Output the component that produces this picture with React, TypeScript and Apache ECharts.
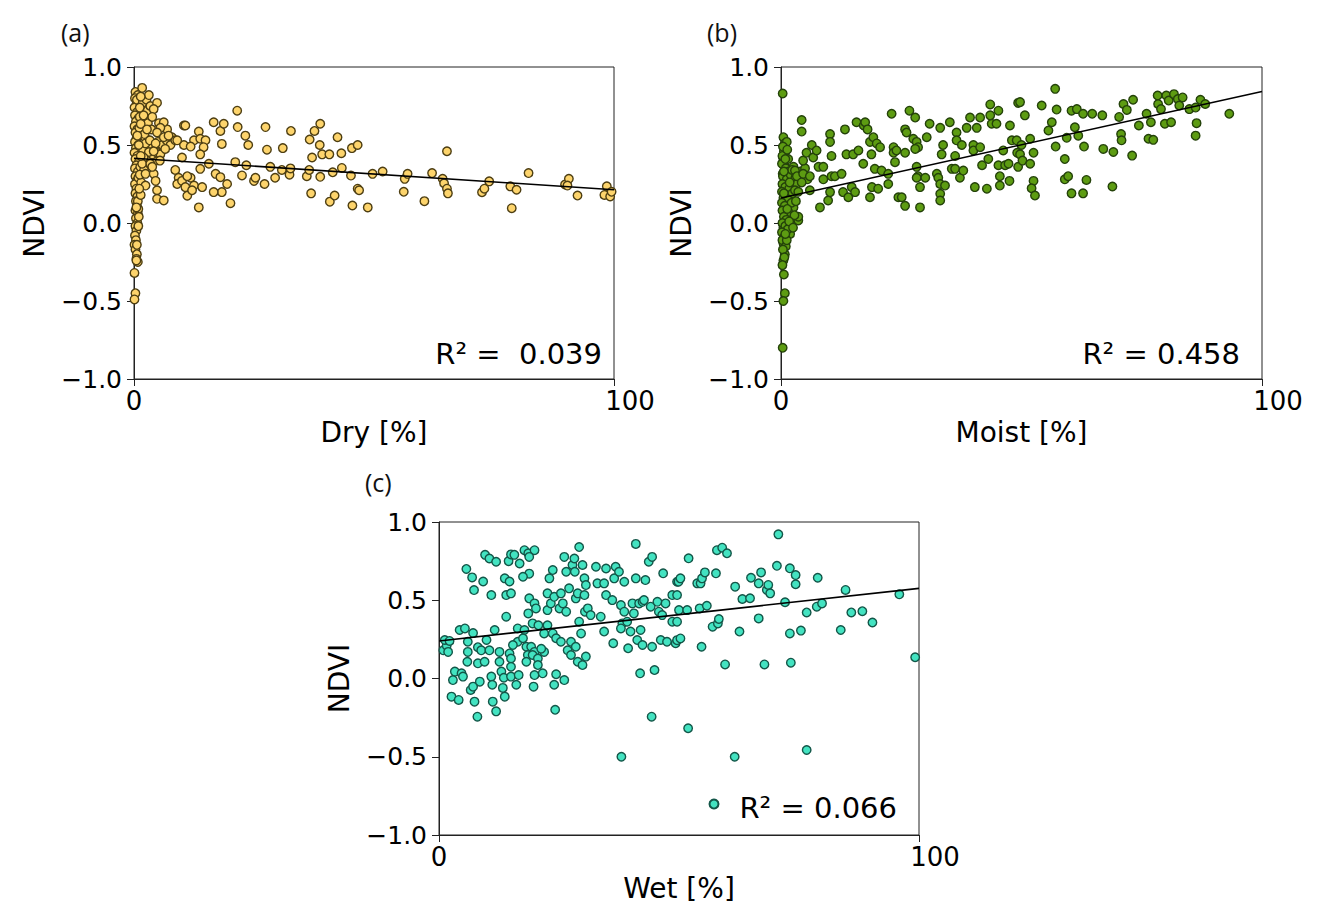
import React, { useEffect, useRef } from "react";
import * as echarts from "echarts";

// ---------- DATA ----------
const panelLabels = ["(a)", "(b)", "(c)"];
const xAxisNames = ["Dry [%]", "Moist [%]", "Wet [%]"];
const yAxisName = "NDVI";
const r2Texts = ["R\u00B2 =  0.039", "R\u00B2 = 0.458", "R\u00B2 = 0.066"];
const yTickLabels = ["\u22121.0", "\u22120.5", "0.0", "0.5", "1.0"];
const xTickLabels = ["0", "100"];

const fitX = [0, 100];
const dryFit = [0.415, 0.213];
const moistFit = [0.16, 0.843];
const wetFit = [0.24, 0.576];

const dryPts: number[][] = [
  [0.3,0.84],[0.8,0.82],[0.2,0.80],[1.0,0.78],[0.5,0.76],[0.1,0.74],[1.2,0.73],[0.6,0.71],[0.2,0.69],[0.9,0.67],
  [0.4,0.65],[1.3,0.63],[0.1,0.62],[0.7,0.60],[0.3,0.58],[1.1,0.56],[0.5,0.54],[0.2,0.52],[0.9,0.50],[0.4,0.48],
  [1.4,0.47],[0.1,0.45],[0.7,0.43],[0.3,0.41],[1.0,0.39],[0.5,0.37],[0.2,0.35],[0.8,0.33],[0.3,0.30],[0.6,0.27],
  [0.2,0.25],[0.5,0.22],[0.3,0.19],[0.7,0.17],[0.4,0.14],[0.6,0.11],[0.3,0.08],[0.8,0.06],[0.4,0.03],[0.7,0.0],
  [0.3,-0.02],[0.5,-0.05],[0.2,-0.08],[0.4,-0.11],[0.1,-0.14],[0.3,-0.17],[0.6,-0.2],[0.5,-0.23],[0.8,-0.25],[0.1,-0.32],
  [0.3,-0.45],[0.1,-0.49],[1.5,0.80],[2.2,0.76],[1.8,0.70],[2.5,0.66],[1.6,0.58],[2.3,0.55],[2.8,0.72],[2.0,0.62],[1.2,0.68],
  [0.6,0.79],[1.8,0.77],[2.6,0.79],[3.4,0.75],[2.9,0.64],[3.6,0.60],[1.1,0.61],[2.2,0.57],[3.0,0.50],[1.9,0.47],
  [2.6,0.43],[3.2,0.41],[1.3,0.36],[2.1,0.34],[5.0,0.52],[5.9,0.50],[6.8,0.53],[7.9,0.55],[5.2,0.64],[6.9,0.60],
  [0.9,0.29],[1.5,0.26],[1.2,0.31],[0.8,0.14],[0.9,-0.02],[0.6,-0.14],[0.9,0.09],[1.4,0.18],
  [1.7,0.866],[3.1,0.82],[4.8,0.77],[4.1,0.73],[3.8,0.68],[6.2,0.646],[5.5,0.61],[4.8,0.58],[6.2,0.55],[7.6,0.50],
  [8.6,0.53],[10.4,0.625],[10.7,0.625],[10.4,0.50],[10.0,0.42],[12.5,0.53],[13.5,0.586],[13.8,0.54],[14.9,0.53],[14.5,0.486],
  [13.8,0.44],[15.6,0.38],[13.8,0.347],[13.5,0.10],[16.6,0.646],[18.0,0.59],[18.7,0.636],[18.3,0.507],[17.0,0.315],[18.0,0.294],
  [19.4,0.25],[18.3,0.198],[16.6,0.198],[20.1,0.127],[21.5,0.72],[21.6,0.615],[23.2,0.56],[23.8,0.50],[21.1,0.39],[23.4,0.37],
  [22.5,0.305],[25.0,0.27],[25.3,0.29],[27.2,0.25],[27.4,0.615],[27.7,0.47],[31.0,0.48],[32.7,0.59],[28.4,0.36],[29.4,0.29],
  [30.8,0.34],[32.4,0.31],[32.6,0.35],[36.0,0.30],[36.5,0.34],[36.9,0.19],[36.6,0.535],[37.6,0.59],[38.8,0.636],[38.7,0.50],
  [39.2,0.44],[37.1,0.42],[40.7,0.44],[42.4,0.55],[43.2,0.447],[41.4,0.325],[38.8,0.296],[40.8,0.137],[41.8,0.176],[45.2,0.304],
  [43.3,0.353],[45.5,0.112],[46.6,0.22],[46.9,0.21],[45.4,0.48],[46.6,0.50],[48.7,0.10],
  [2.4,0.24],[2.4,0.315],[4.1,0.315],[4.5,0.27],[4.8,0.21],[4.8,0.155],[6.2,0.145],[4.5,0.40],[3.8,0.44],[3.1,0.455],
  [2.4,0.51],[2.0,0.42],[1.7,0.38],[1.4,0.43],[1.0,0.50],[0.7,0.56],[1.4,0.635],[2.0,0.69],[1.2,0.74],[1.4,0.81],
  [2.7,0.60],[3.3,0.53],[4.5,0.51],[4.8,0.45],[5.5,0.44],[3.4,0.38],[4.1,0.46],[7.2,0.56],[6.5,0.475],[5.4,0.40],
  [3.8,0.36],[8.6,0.34],[9.3,0.29],[9.0,0.25],[10.0,0.27],[10.7,0.23],[11.1,0.175],[11.8,0.29],[12.5,0.24],[12.1,0.21],
  [14.2,0.23],[11.1,0.30],[11.8,0.49],[9.0,0.53],[1.0,0.04],[0.5,0.10],[1.1,0.22],[0.5,-0.24],
  [49.7,0.315],[51.8,0.33],[56.2,0.20],[56.4,0.283],[57.0,0.315],[60.5,0.14],[62.1,0.32],[64.3,0.283],[64.6,0.255],[65.2,0.22],
  [65.4,0.19],[65.2,0.46],[72.5,0.197],[73.0,0.22],[74.0,0.267],[78.4,0.235],[79.7,0.213],[78.7,0.095],[82.2,0.32],[89.8,0.247],
  [90.6,0.283],[90.3,0.24],[92.4,0.176],[98.5,0.235],[98.0,0.18],[99.2,0.17],[99.5,0.20]
];

const moistPts: number[][] = [
  [0.35,0.83],[0.5,0.55],[0.8,0.51],[0.8,0.45],[0.5,0.40],[0.8,0.36],[0.35,0.315],[0.8,-0.45],[0.5,-0.50],[0.6,-0.33],
  [0.5,-0.24],[0.8,-0.20],[0.5,-0.13],[1.9,-0.07],[2.2,0.0],[3.6,0.016],[3.6,0.04],[1.2,0.06],[1.9,0.12],[0.5,-0.03],[0.35,-0.80],
  [0.2,0.38],[1.0,0.35],[1.6,0.33],[0.4,0.30],[1.2,0.28],[2.1,0.27],[0.3,0.25],[0.9,0.23],[1.7,0.22],[0.2,0.20],
  [1.1,0.18],[2.4,0.19],[0.5,0.16],[1.4,0.15],[0.2,0.13],[0.8,0.11],[2.6,0.10],[0.3,0.08],[1.5,0.07],[0.6,0.04],
  [1.1,0.02],[0.3,0.0],[0.9,-0.02],[1.4,-0.04],[0.2,-0.06],[0.7,-0.09],[0.3,-0.11],[1.0,-0.15],[0.4,-0.17],[2.8,0.05],
  [2.0,0.31],[3.0,0.29],[2.6,0.36],[1.5,0.41],[0.6,0.46],[1.2,0.52],
  [0.3,0.43],[0.9,0.41],[0.4,0.49],[1.3,0.47],[2.3,0.34],[3.3,0.25],[2.9,0.21],[2.2,0.13],[3.1,0.14],[1.7,0.01],
  [2.5,-0.03],[1.2,-0.11],[0.7,-0.22],[0.3,-0.27],[0.9,-0.07],[1.8,0.26],[0.6,0.33],[4.0,0.33],[5.0,0.35],[5.5,0.28],
  [0.6,0.19],[1.3,0.09],
  [4.3,0.66],[4.3,0.586],[4.6,0.40],[5.3,0.45],[6.4,0.50],[6.7,0.42],[7.4,0.465],[2.9,0.336],[3.3,0.30],[4.6,0.315],
  [6.0,0.30],[4.3,0.26],[3.6,0.20],[6.0,0.21],[7.8,0.36],[8.8,0.36],[8.8,0.28],[8.1,0.10],[9.8,0.144],[10.2,0.198],
  [10.5,0.30],[11.2,0.30],[12.6,0.315],[10.5,0.43],[10.2,0.57],[10.2,0.52],[13.3,0.60],[13.6,0.44],[12.9,0.198],[14.0,0.165],
  [14.7,0.23],[15.4,0.198],[15.0,0.44],[16.1,0.465],[15.7,0.646],[17.2,0.625],[17.5,0.646],[18.0,0.60],[17.1,0.38],[18.5,0.165],
  [18.9,0.23],[18.8,0.44],[18.5,0.52],[19.2,0.55],[19.5,0.347],[19.9,0.51],[20.2,0.22],[20.6,0.486],[20.9,0.336],[22.3,0.25],
  [22.3,0.315],[23.0,0.70],[23.4,0.486],[23.4,0.45],[23.7,0.39],[24.0,0.465],[24.4,0.165],[25.1,0.165],[25.8,0.11],[25.8,0.45],
  [25.8,0.60],[26.1,0.58],[26.7,0.72],[27.9,0.676],[27.5,0.54],[28.2,0.52],[28.5,0.486],[27.9,0.475],[28.2,0.36],[28.5,0.30],
  [28.2,0.29],[28.9,0.23],[28.9,0.10],[30.0,0.29],[30.3,0.55],[30.9,0.636],[32.4,0.315],[32.7,0.29],[33.1,0.25],[33.1,0.187],
  [33.1,0.144],[33.4,0.44],[33.7,0.50],[33.1,0.61],[34.1,0.24],[35.1,0.646],[35.5,0.347],[36.2,0.347],[36.2,0.43],[36.5,0.58],
  [36.5,0.53],[37.6,0.50],[37.2,0.29],[37.9,0.336],[38.6,0.61],[39.3,0.676],[40.0,0.50],[40.0,0.465],[40.3,0.23],[40.7,0.61],
  [41.4,0.676],[41.4,0.486],[41.8,0.37],[42.8,0.22],[43.1,0.41],[43.5,0.76],[43.5,0.69],[43.8,0.636],[44.8,0.636],[45.2,0.72],
  [45.2,0.37],[45.5,0.30],[45.5,0.24],[46.2,0.465],[46.6,0.37],[47.3,0.38],[47.5,0.27],[47.6,0.625],[48.0,0.53],[49.0,0.53],
  [49.3,0.77],[49.3,0.36],[49.1,0.45],
  [49.7,0.775],[50.0,0.50],[49.7,0.44],[50.2,0.40],[50.7,0.69],[51.8,0.54],[52.5,0.45],[51.8,0.38],[52.5,0.27],[52.1,0.223],
  [52.8,0.176],[54.2,0.753],[57.0,0.86],[57.3,0.727],[56.3,0.646],[55.6,0.593],[57.1,0.49],[59.0,0.41],[59.0,0.28],[59.7,0.30],
  [60.4,0.72],[61.5,0.73],[61.1,0.614],[59.4,0.546],[61.8,0.56],[60.4,0.19],[62.8,0.19],[62.8,0.70],[63.0,0.49],[63.5,0.276],
  [64.7,0.70],[66.8,0.69],[67.0,0.475],[69.1,0.455],[68.9,0.234],[70.3,0.68],[70.7,0.57],[70.8,0.53],[71.2,0.763],[71.9,0.725],
  [73.2,0.79],[73.0,0.432],[74.4,0.625],[76.0,0.70],[76.4,0.54],[77.4,0.533],[76.9,0.646],[78.3,0.817],[78.4,0.763],[79.0,0.73],
  [79.8,0.636],[80.1,0.817],[80.6,0.785],[81.1,0.646],[81.7,0.826],[82.5,0.795],[82.8,0.753],[83.5,0.805],[84.9,0.73],[86.2,0.74],
  [86.4,0.64],[86.2,0.56],[87.2,0.79],[88.2,0.763],[93.2,0.70]
];

const wetPts: number[][] = [
  [0.9,0.18],[1.6,0.21],[1.2,0.246],[2.2,0.24],[1.9,0.17],[2.6,-0.116],[4.1,-0.137],[3.3,0.044],[2.9,-0.01],[4.7,0.033],
  [5.0,0.012],[4.3,0.31],[5.4,0.32],[5.7,0.70],[6.9,0.646],[7.3,0.565],[6.0,0.235],[6.0,0.17],[5.9,0.107],[6.6,-0.073],
  [7.1,-0.052],[7.4,-0.148],[8.0,-0.244],[7.1,0.29],[8.1,0.20],[8.1,0.097],[8.5,-0.02],[8.8,0.18],[9.2,0.62],[9.6,0.79],
  [10.5,0.767],[11.9,0.746],[10.9,0.533],[9.5,0.107],[9.9,0.246],[10.5,0.18],[10.9,0.012],[11.1,-0.04],[11.2,-0.148],[11.9,-0.21],
  [11.6,0.31],[12.6,0.17],[12.6,0.107],[13.0,0.044],[13.3,-0.06],[13.7,-0.116],[13.5,0.005],[13.7,0.64],[14.0,0.395],[14.0,0.533],
  [14.7,0.62],[15.0,0.544],[14.5,0.75],[15.0,0.793],[15.7,0.79],[16.8,0.735],[16.4,0.32],[16.4,0.235],[15.4,0.214],[14.7,0.16],
  [15.0,0.128],[15.0,0.075],[15.0,0.012],[16.6,0.022],[16.1,-0.04],[17.8,0.82],[18.6,0.80],[19.9,0.82],[18.8,0.777],[18.8,0.67],
  [17.5,0.65],[17.8,0.31],[17.5,0.257],[18.2,0.203],[18.5,0.15],[18.2,0.107],[18.8,0.512],[18.6,0.416],[19.9,0.48],[20.2,0.448],
  [19.5,0.352],[19.2,0.203],[19.9,0.17],[19.5,0.15],[19.9,0.022],[19.7,-0.052],[20.6,0.128],[20.6,0.086],[20.7,0.34],[21.6,0.033],
  [21.9,0.17],[21.3,0.19],[21.9,0.288],[22.6,0.34],[22.6,0.437],[22.6,0.544],[23.0,0.64],[23.7,0.693],[23.3,0.48],[24.0,0.522],
  [23.7,0.288],[24.4,0.257],[24.4,0.027],[24.0,-0.04],[24.2,-0.2],[25.1,0.448],[25.4,0.544],[25.8,0.48],[25.4,0.235],[26.1,-0.01],
  [26.1,0.777],[26.5,0.682],[26.5,0.427],[26.8,0.18],[27.1,0.576],[27.5,0.235],[27.5,0.15],[27.8,0.725],[28.2,0.767],[28.3,0.682],
  [28.5,0.512],[28.9,0.544],[28.5,0.203],[28.9,0.107],[29.2,0.363],[29.6,0.288],[29.2,0.84],[29.9,0.725],[30.3,0.64],[30.3,0.533],
  [30.4,0.427],[30.6,0.14],[29.9,0.086],[30.6,0.597],[31.0,0.448],[31.6,0.405],[32.7,0.714],[33.0,0.608],[33.7,0.395],[34.4,0.30],
  [34.4,0.608],[34.8,0.533],[34.8,0.703],[36.1,0.501],[36.3,0.225],[36.5,0.64],[36.8,0.714],[37.5,0.682],[37.9,0.469],[38.6,0.618],
  [38.6,0.427],[38.2,0.352],[37.9,0.32],[38.0,-0.50],[39.2,0.363],[39.4,0.193],[39.9,0.30],[40.6,0.416],[40.3,0.48],[41.0,0.86],
  [41.0,0.64],[41.3,0.246],[41.7,0.48],[42.4,0.49],[41.9,0.033],[42.0,0.31],[42.4,0.214],[42.7,0.501],[43.0,0.629],[43.7,0.746],
  [44.4,0.777],[44.4,0.203],[44.1,0.459],[44.9,0.054],[44.3,-0.244],[45.5,0.49],[45.8,0.427],[46.2,0.246],[46.5,0.405],[46.7,0.672],
  [47.2,0.48],[47.5,0.235],[48.6,0.533],[48.6,0.363],[49.3,0.225],[49.6,0.618],[50.0,0.437],
  [49.9,0.619],[50.3,0.64],[49.6,0.533],[51.7,0.437],[49.6,0.363],[49.6,0.245],[50.3,0.256],[52.0,0.768],[51.9,-0.318],[53.8,0.608],
  [54.5,0.608],[54.8,0.64],[55.4,0.678],[54.3,0.448],[55.8,0.465],[54.7,0.203],[57.0,0.331],[58.1,0.352],[58.3,0.38],[57.7,0.672],
  [57.9,0.82],[59.0,0.836],[60.0,0.80],[59.6,0.09],[61.6,-0.50],[61.7,0.587],[62.6,0.30],[63.2,0.508],[64.8,0.513],[65.0,0.644],
  [66.6,0.608],[67.1,0.678],[66.6,0.384],[67.8,0.09],[68.3,0.566],[68.6,0.598],[69.0,0.544],[70.4,0.72],[70.7,0.921],[72.1,0.487],
  [73.1,0.704],[73.1,0.288],[74.3,0.661],[74.3,0.602],[73.3,0.101],[75.4,0.306],[76.6,0.422],[76.6,-0.457],[78.7,0.459],[78.9,0.644],
  [79.8,0.48],[83.7,0.31],[84.7,0.566],[85.9,0.422],[88.2,0.43],[90.3,0.358],[95.9,0.538],[99.2,0.136]
];

// ---------- STYLE ----------
const FONT = "DejaVu Sans";
const fills = ["#fdd46c", "#5d9c12", "#43e3c1"];
const edges = ["#4d3e12", "#24420a", "#135648"];
const grids = [
  { left: 134, top: 67, width: 480, height: 312 },
  { left: 781, top: 67, width: 481, height: 312 },
  { left: 439, top: 522, width: 480, height: 313 },
];
const fits = [dryFit, moistFit, wetFit];
const pts = [dryPts, moistPts, wetPts];

export default function App() {
  const ref = useRef<HTMLDivElement>(null);
  useEffect(() => {
    if (!ref.current) return;
    const chart = echarts.init(ref.current, null, { renderer: "svg" });
    const yFmt = (v: number) => yTickLabels[Math.round((v + 1) / 0.5)] ?? "";
    const xFmt = (v: number) => (v === 0 ? xTickLabels[0] : v === 100 ? "{r|" + xTickLabels[1] + "}" : "");
    const option: any = {
      animation: false,
      backgroundColor: "#fff",
      grid: grids.map((g) => ({ ...g, show: true, borderColor: "#222", borderWidth: 1, backgroundColor: "transparent" })),
      xAxis: grids.map((_, i) => ({
        gridIndex: i,
        type: "value",
        min: 0,
        max: 100,
        interval: 100,
        name: xAxisNames[i],
        nameLocation: "middle",
        nameGap: 39,
        nameTextStyle: { fontFamily: FONT, fontSize: 28, color: "#000", verticalAlign: "top" },
        axisLine: { show: true, onZero: false, lineStyle: { color: "#222", width: 1 } },
        axisTick: { show: true, length: 7, lineStyle: { color: "#222" } },
        axisLabel: {
          formatter: xFmt,
          fontFamily: FONT,
          fontSize: 26,
          color: "#000",
          margin: 9,
          rich: { r: { fontFamily: FONT, fontSize: 26, color: "#000", padding: [0, 0, 0, 32] } },
        },
        splitLine: { show: false },
      })),
      yAxis: grids.map((_, i) => ({
        gridIndex: i,
        type: "value",
        min: -1,
        max: 1,
        interval: 0.5,
        name: yAxisName,
        nameLocation: "middle",
        nameGap: 86,
        nameRotate: 90,
        nameTextStyle: { fontFamily: FONT, fontSize: 28, color: "#000" },
        axisLine: { show: true, onZero: false, lineStyle: { color: "#222", width: 1 } },
        axisTick: { show: true, length: 7, lineStyle: { color: "#222" } },
        axisLabel: { formatter: yFmt, fontFamily: FONT, fontSize: 25, color: "#000", margin: 12 },
        splitLine: { show: false },
      })),
      legend: {
        data: [{ name: r2Texts[2], icon: "circle" }],
        formatter: () => "",
        left: 708.5,
        top: 798.5,
        padding: 0,
        itemWidth: 9,
        itemHeight: 9,
        selectedMode: false,
        textStyle: { fontSize: 1 },
      },
      graphic: [
        ...panelLabels.map((t, i) => ({
          type: "text",
          left: [61, 707, 365][i],
          top: [19, 19, 469][i],
          style: { text: t, fontFamily: "Open Sans", fontSize: 25, fill: "#111" },
        })),
        ...r2Texts.map((t, i) => ({
          type: "text",
          right: 1331 - [602, 1240, 897][i],
          top: [339, 339, 793][i],
          style: { text: t, fontFamily: FONT, fontSize: 29, fill: "#000" },
        })),
      ],
      series: [
        ...pts.map((p, i) => ({
          type: "scatter",
          name: r2Texts[i],
          xAxisIndex: i,
          yAxisIndex: i,
          data: p,
          symbol: "circle",
          symbolSize: 8.5,
          itemStyle: { color: fills[i], borderColor: edges[i], borderWidth: 1.4, opacity: 1 },
          z: 3,
        })),
        ...fits.map((f, i) => ({
          type: "line",
          xAxisIndex: i,
          yAxisIndex: i,
          data: fitX.map((x, k) => [x, f[k]]),
          symbol: "none",
          lineStyle: { color: "#000", width: 1.6 },
          z: 4,
        })),
      ],
    };
    chart.setOption(option);
    return () => chart.dispose();
  }, []);
  return (
    <div
      ref={ref}
      style={{ position: "fixed", left: 0, top: 0, width: 1331, height: 924, background: "#fff" }}
    />
  );
}
